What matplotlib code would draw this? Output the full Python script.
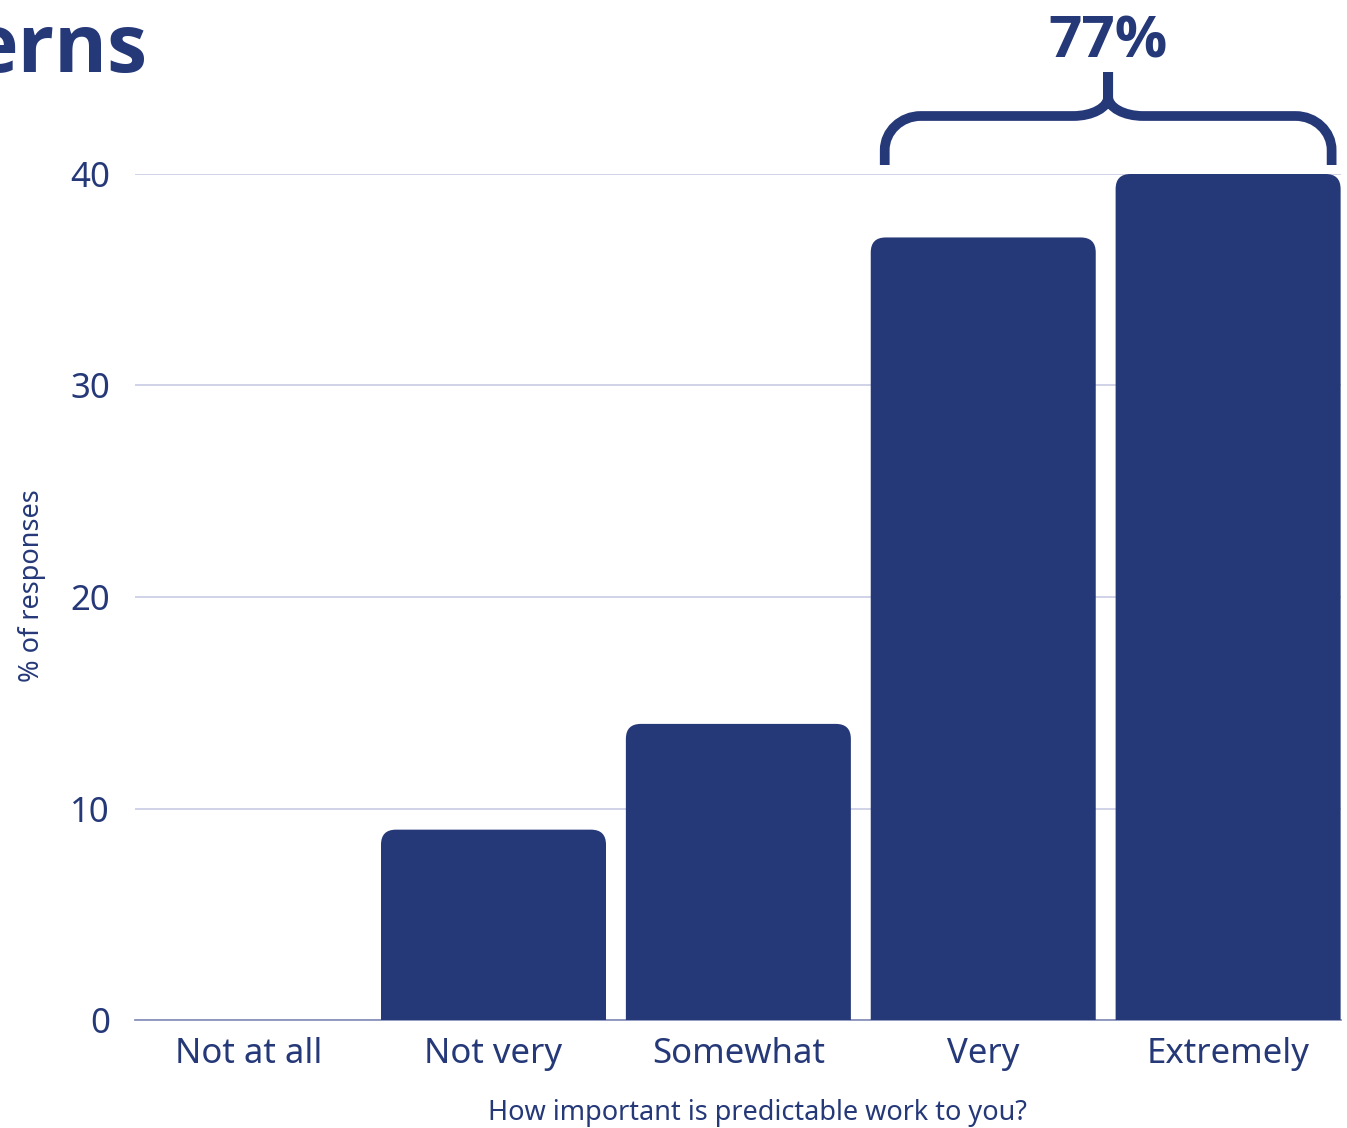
import matplotlib
matplotlib.use('Agg')
import matplotlib.pyplot as plt
from matplotlib.patches import FancyBboxPatch, PathPatch
from matplotlib.path import Path

plt.rcParams['font.family'] = ['Noto Sans', 'DejaVu Sans']

categories = ['Not at all', 'Not very', 'Somewhat', 'Very', 'Extremely']
values = [0, 9, 14, 37, 40]
yticks = [0, 10, 20, 30, 40]
brace_bars = [3, 4]   # bars grouped under the brace

navy = '#253878'
grid_col = '#c8cce4'
bold_fam = ['Open Sans', 'Roboto', 'DejaVu Sans']

W, H = 1347, 1128
fig = plt.figure(figsize=(W/100, H/100), dpi=100)
ax = fig.add_axes([135/W, 108/H, 1206/W, 846/H])
xlim = (-0.464, 4.461)
ax.set_xlim(*xlim)
ax.set_ylim(0, 40)

# pixel -> data unit sizes
px_x = (xlim[1]-xlim[0])/1206
px_y = 40/846
width = 225*px_x
rad = 15*px_x

for i, v in enumerate(values):
    if v <= 0:
        continue
    # start below 0 so the bottom corners get clipped off
    bar = FancyBboxPatch((i-width/2, -2), width, v+2,
                         boxstyle='round,pad=0,rounding_size=%f' % rad,
                         mutation_aspect=px_y/px_x,
                         fc=navy, ec='none', zorder=3)
    ax.add_patch(bar)

ax.set_xticks(range(len(categories)))
ax.set_xticklabels(categories)
ax.set_yticks(yticks)
ax.yaxis.grid(True, color=grid_col, lw=1.2)
ax.set_axisbelow(True)
for s in ['top', 'right', 'left']:
    ax.spines[s].set_visible(False)
ax.spines['bottom'].set_color('#8a92bb')
ax.spines['bottom'].set_linewidth(1.3)
ax.tick_params(axis='both', length=0, labelsize=25, labelcolor=navy)
ax.tick_params(axis='x', pad=12)
ax.tick_params(axis='y', pad=18)

ax.set_ylabel('% of responses', fontsize=19.5, color=navy, va='center')
ax.yaxis.set_label_coords(-0.0854, 0.514)
ax.set_xlabel('How important is predictable work to you?', fontsize=19.5, color=navy, va='center')
ax.xaxis.set_label_coords(0.516, -0.110)

# cropped title
fig.text(147/W, 1-72/H, 'erns', ha='right', va='baseline', fontsize=58,
         fontweight='bold', family=bold_fam, color=navy)

# curly brace over the last two bars
xl = brace_bars[0] - width/2 + 14*px_x
xr = brace_bars[1] + width/2 - 9*px_x
xc = (xl + xr)/2
y0 = max(values) + 9*px_y
yh = y0 + 49*px_y
yt = y0 + 93*px_y
rx, ry = 36*px_x, 34*px_y
cx, cy = 35*px_x, 19*px_y
k = 0.55

def half(xe, sgn):
    verts = [(xe, y0), (xe, yh-ry),
             (xe, yh-ry+k*ry), (xe+sgn*(rx-k*rx), yh), (xe+sgn*rx, yh),
             (xc-sgn*cx, yh),
             (xc-sgn*cx+sgn*k*cx, yh), (xc, yh+cy-k*cy), (xc, yh+cy),
             (xc, yt)]
    codes = [Path.MOVETO, Path.LINETO,
             Path.CURVE4, Path.CURVE4, Path.CURVE4,
             Path.LINETO,
             Path.CURVE4, Path.CURVE4, Path.CURVE4,
             Path.LINETO]
    return verts, codes

v1, c1 = half(xl, 1)
v2, c2 = half(xr, -1)
brace = PathPatch(Path(v1+v2, c1+c2), fill=False, ec=navy, lw=7,
                  capstyle='butt', joinstyle='round', clip_on=False, zorder=4)
ax.add_patch(brace)

total = sum(values[i] for i in brace_bars)
ax.text(xc, yt + 15*px_y, '%d%%' % total, ha='center', va='baseline',
        fontsize=42, fontweight='bold', family=bold_fam, color=navy)

fig.savefig('out.png', dpi=100)
